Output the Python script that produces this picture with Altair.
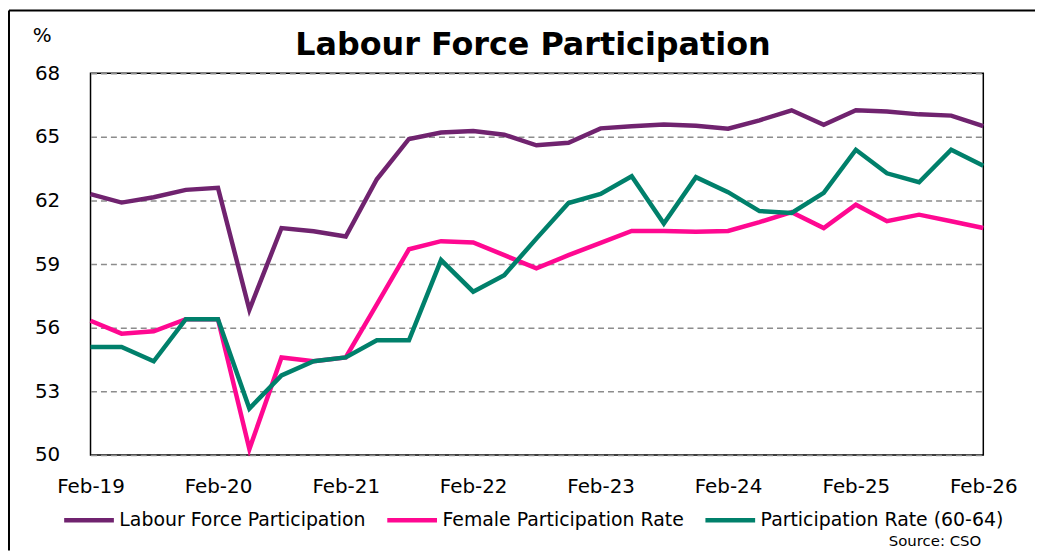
import altair as alt
import pandas as pd

dates = [f"{y}-{m:02d}-01" for y in range(2019, 2027) for m in (2, 5, 8, 11)][:29]

labour_force = [62.3, 61.9, 62.15, 62.5, 62.6, 56.85, 60.7, 60.55, 60.3, 63.0,
                64.9, 65.2, 65.27, 65.1, 64.6, 64.72, 65.4, 65.5, 65.58, 65.52,
                65.38, 65.78, 66.25, 65.57, 66.25, 66.19, 66.06, 66.0, 65.5]
female = [56.33, 55.72, 55.83, 56.4, 56.4, 50.28, 54.6, 54.42, 54.6, 57.1,
          59.7, 60.08, 60.02, 59.42, 58.8, 59.42, 60.0, 60.56, 60.56, 60.52,
          60.56, 60.98, 61.45, 60.7, 61.8, 61.02, 61.33, 61.02, 60.7]
age_60_64 = [55.09, 55.09, 54.42, 56.4, 56.4, 52.19, 53.75, 54.42, 54.6, 55.41,
             55.41, 59.19, 57.7, 58.48, 60.2, 61.88, 62.31, 63.14, 60.91, 63.1,
             62.39, 61.5, 61.41, 62.36, 64.39, 63.28, 62.86, 64.39, 63.64]

series_names = ["Labour Force Participation", "Female Participation Rate",
                "Participation Rate (60-64)"]
series_colors = ["#70236f", "#ff0891", "#00806b"]
y_ticks = [50, 53, 56, 59, 62, 65, 68]
x_tick_years = list(range(2019, 2027))
title_text = "Labour Force Participation"
source_text = "Source: CSO"

rows = []
for name, vals in zip(series_names, [labour_force, female, age_60_64]):
    for d, v in zip(dates, vals):
        rows.append({"date": d, "value": v, "series": name})
df = pd.DataFrame(rows)

FONT = "DejaVu Sans"

x_vals = [alt.DateTime(year=y, month=2, date=1, utc=True) for y in x_tick_years]

lines = alt.Chart(df).mark_line(strokeWidth=4.5, clip=False).encode(
    x=alt.X("date:T",
            scale=alt.Scale(type="utc",
                            domain=[alt.DateTime(year=2019, month=2, date=1, utc=True),
                                    alt.DateTime(year=2026, month=2, date=1, utc=True)]),
            axis=alt.Axis(values=x_vals, labelExpr="utcFormat(datum.value, '%b-%y')",
                          title=None, grid=False, domain=False, ticks=False, labelPadding=22,
                          labelFontSize=20, labelFont=FONT, labelColor="black",
                          labelOverlap=False, labelFlush=False)),
    y=alt.Y("value:Q",
            scale=alt.Scale(domain=[50, 68], nice=False, zero=False),
            axis=alt.Axis(values=y_ticks, title="%", titleAngle=0, titleX=-49, titleY=-38,
                          titleAlign="center", titleBaseline="middle", titleFontSize=20,
                          titleFont=FONT, titleFontWeight="normal", titleColor="black",
                          grid=True, gridDash=[6, 4], gridColor="#8c8c8c", gridWidth=1.5,
                          domain=False, ticks=False, labelPadding=31, labelFontSize=20,
                          labelFont=FONT, labelColor="black")),
    color=alt.Color("series:N",
                    scale=alt.Scale(domain=series_names, range=series_colors),
                    sort=series_names,
                    legend=alt.Legend(title=None, orient="none", direction="horizontal",
                                      legendX=-29, legendY=422, symbolType="stroke",
                                      symbolSize=2500, symbolStrokeWidth=4.5,
                                      labelFontSize=19, labelFont=FONT, labelColor="black",
                                      labelOffset=3, columnPadding=12, labelLimit=400)),
)

title = alt.Chart(pd.DataFrame({"t": [title_text]})).mark_text(
    align="center", baseline="alphabetic", fontSize=32, fontWeight="bold",
    font=FONT, color="black"
).encode(x=alt.value(445), y=alt.value(-18), text="t:N")

source = alt.Chart(pd.DataFrame({"t": [source_text]})).mark_text(
    align="right", baseline="middle", fontSize=15, font=FONT, color="black"
).encode(x=alt.value(896), y=alt.value(471), text="t:N")

frame_v = alt.Chart(pd.DataFrame({"a": [0]})).mark_rule(color="black", strokeWidth=2).encode(
    x=alt.value(-82), y=alt.value(-63), y2=alt.value(480))
frame_h = alt.Chart(pd.DataFrame({"a": [0]})).mark_rule(color="black", strokeWidth=2).encode(
    y=alt.value(-63), x=alt.value(-82), x2=alt.value(960))

chart = alt.layer(lines, title, source, frame_v, frame_h).properties(
    width=898, height=384,
    autosize=alt.AutoSizeParams(type="none"),
    padding={"left": 83, "top": 64, "right": 52, "bottom": 97},
).configure(background="white").configure_view(stroke="black", strokeWidth=1.5)

chart.save("out.html", embed_options={"renderer": "svg", "actions": False})
